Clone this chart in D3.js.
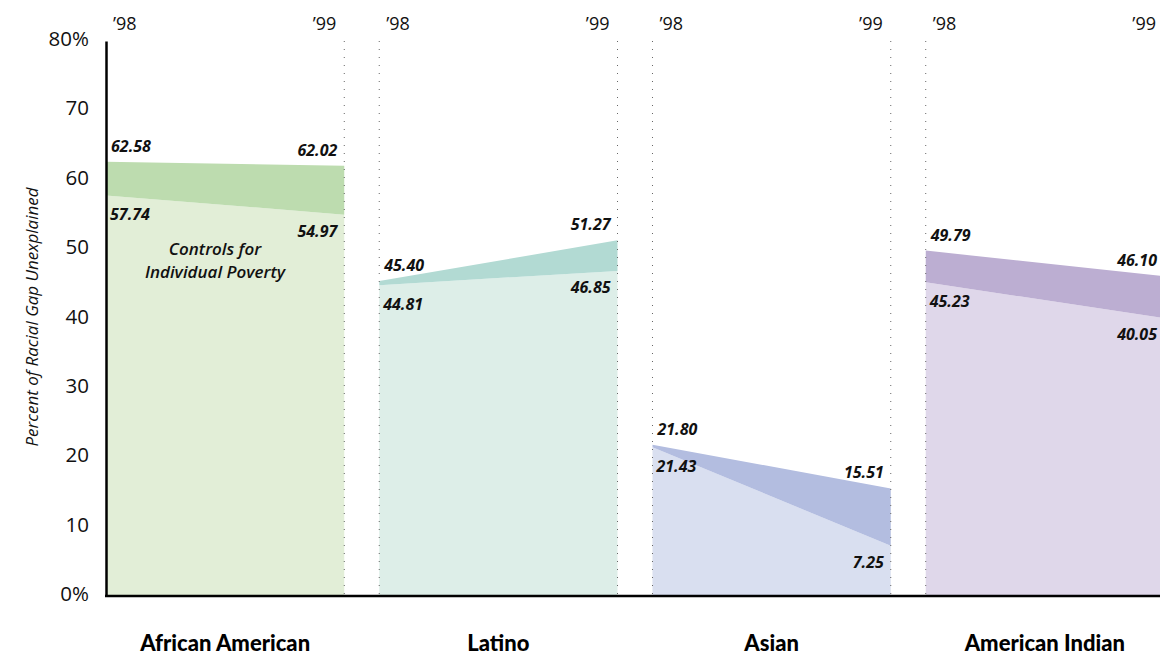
<!DOCTYPE html>
<html>
<head>
<meta charset="utf-8">
<script src="https://cdn.jsdelivr.net/npm/d3@7"></script>
<style>
  html, body { margin: 0; padding: 0; background: #fff; }
  svg { display: block; }
  .tick text { font-family: "Open Sans", sans-serif; font-size: 20.5px; fill: #111; }
</style>
</head>
<body>
<svg id="chart" width="1160" height="658"></svg>
<script>
// Share of the racial gap left unexplained, 1998 vs 1999, by group
const groups = ["African American", "Latino", "Asian", "American Indian"];
const years = ["’98", "’99"];
// Baseline model (top edge of the darker band)
const gapUnexplained = [[62.58, 62.02], [45.40, 51.27], [21.80, 15.51], [49.79, 46.10]];
// Model controlling for individual poverty (top edge of the light fill)
const withPovertyControls = [[57.74, 54.97], [44.81, 46.85], [21.43, 7.25], [45.23, 40.05]];
const yTicks = [0, 10, 20, 30, 40, 50, 60, 70, 80];
const bandColors = ["#bddcaf", "#b2dad3", "#b3bde0", "#bcaed2"];
const fillColors = ["#e2eed7", "#ddeee8", "#d9dff0", "#dfd7ea"];

const svg = d3.select("#chart");
const plotTop = 41, plotBottom = 596, plotLeft = 106;

const y = d3.scaleLinear().domain([0, 80]).range([plotBottom, plotTop]);
const xGroup = d3.scaleBand().domain(groups).range([plotLeft, 1164]).paddingInner(0.128).paddingOuter(0);
const bw = xGroup.bandwidth();
const xYear = d3.scalePoint().domain(years).range([0, bw]);

// Panels
groups.forEach((g, i) => {
  const gx = xGroup(g);
  const panel = svg.append("g").attr("transform", `translate(${gx},0)`);
  const rows = years.map((yr, j) => ({ yr, hi: gapUnexplained[i][j], lo: withPovertyControls[i][j] }));

  panel.append("path")
    .datum(rows)
    .attr("fill", fillColors[i])
    .attr("d", d3.area().x(d => xYear(d.yr)).y0(y(0)).y1(d => y(d.lo)));

  panel.append("path")
    .datum(rows)
    .attr("fill", bandColors[i])
    .attr("d", d3.area().x(d => xYear(d.yr)).y0(d => y(d.lo)).y1(d => y(d.hi)));

  // dotted year guides
  years.forEach(yr => {
    if (i === 0 && yr === years[0]) return;
    panel.append("line")
      .attr("x1", xYear(yr)).attr("x2", xYear(yr))
      .attr("y1", y(80)).attr("y2", y(0))
      .attr("stroke", "#666").attr("stroke-width", 1)
      .attr("stroke-dasharray", "1,7");
  });

  // year headers
  panel.append("text")
    .attr("x", xYear(years[0]) + 7).attr("y", 30)
    .attr("font-family", "Open Sans, sans-serif").attr("font-size", 18).attr("fill", "#111")
    .text(years[0]);
  panel.append("text")
    .attr("x", xYear(years[1]) - 8).attr("y", 30)
    .attr("text-anchor", "end")
    .attr("font-family", "Open Sans, sans-serif").attr("font-size", 18).attr("fill", "#111")
    .text(years[1]);

  // value labels
  const valueLabel = (x, yy, anchor, v) => panel.append("text")
    .attr("x", x).attr("y", yy).attr("text-anchor", anchor)
    .attr("font-family", "Open Sans, sans-serif").attr("font-size", 16)
    .attr("font-style", "italic").attr("font-weight", 700).attr("fill", "#111")
    .text(v.toFixed(2));
  const x0 = xYear(years[0]), x1 = xYear(years[1]);
  valueLabel(x0 + 5, y(rows[0].hi) - 10, "start", rows[0].hi);
  valueLabel(x1 - 7, y(rows[1].hi) - 10, "end", rows[1].hi);
  valueLabel(x0 + 4, y(rows[0].lo) + 25, "start", rows[0].lo);
  valueLabel(x1 - 7, y(rows[1].lo) + 22, "end", rows[1].lo);

  // group name
  svg.append("text")
    .attr("x", gx + bw / 2).attr("y", 651)
    .attr("text-anchor", "middle")
    .attr("font-family", "Lato, sans-serif").attr("font-size", 22).attr("font-weight", 900)
    .attr("fill", "#000")
    .text(g);
});

// Annotation in the first panel
const noteX = xGroup(groups[0]) + 109;
const note = svg.append("text")
  .attr("x", noteX).attr("y", 255)
  .attr("text-anchor", "middle")
  .attr("font-family", "Open Sans, sans-serif").attr("font-size", 17)
  .attr("font-style", "italic").attr("font-weight", 600).attr("fill", "#111");
note.append("tspan").attr("x", noteX).text("Controls for");
note.append("tspan").attr("x", noteX).attr("dy", 23).text("Individual Poverty");

// Axes
const yAxis = d3.axisLeft(y).tickValues(yTicks).tickSize(0).tickPadding(17)
  .tickFormat(d => (d === 0 || d === 80) ? d + "%" : d);
const ya = svg.append("g").attr("transform", `translate(${plotLeft},0)`).call(yAxis);
ya.select(".domain").attr("stroke", "#000").attr("stroke-width", 2.5);
ya.selectAll(".tick text").attr("dy", "0.22em");

svg.append("line")
  .attr("x1", plotLeft - 1).attr("x2", 1160)
  .attr("y1", y(0)).attr("y2", y(0))
  .attr("stroke", "#000").attr("stroke-width", 2.5);

svg.append("text")
  .attr("transform", `translate(38,317) rotate(-90)`)
  .attr("text-anchor", "middle")
  .attr("font-family", "Open Sans, sans-serif").attr("font-size", 17)
  .attr("font-style", "italic").attr("font-weight", 500).attr("fill", "#111")
  .text("Percent of Racial Gap Unexplained");
</script>
</body>
</html>
